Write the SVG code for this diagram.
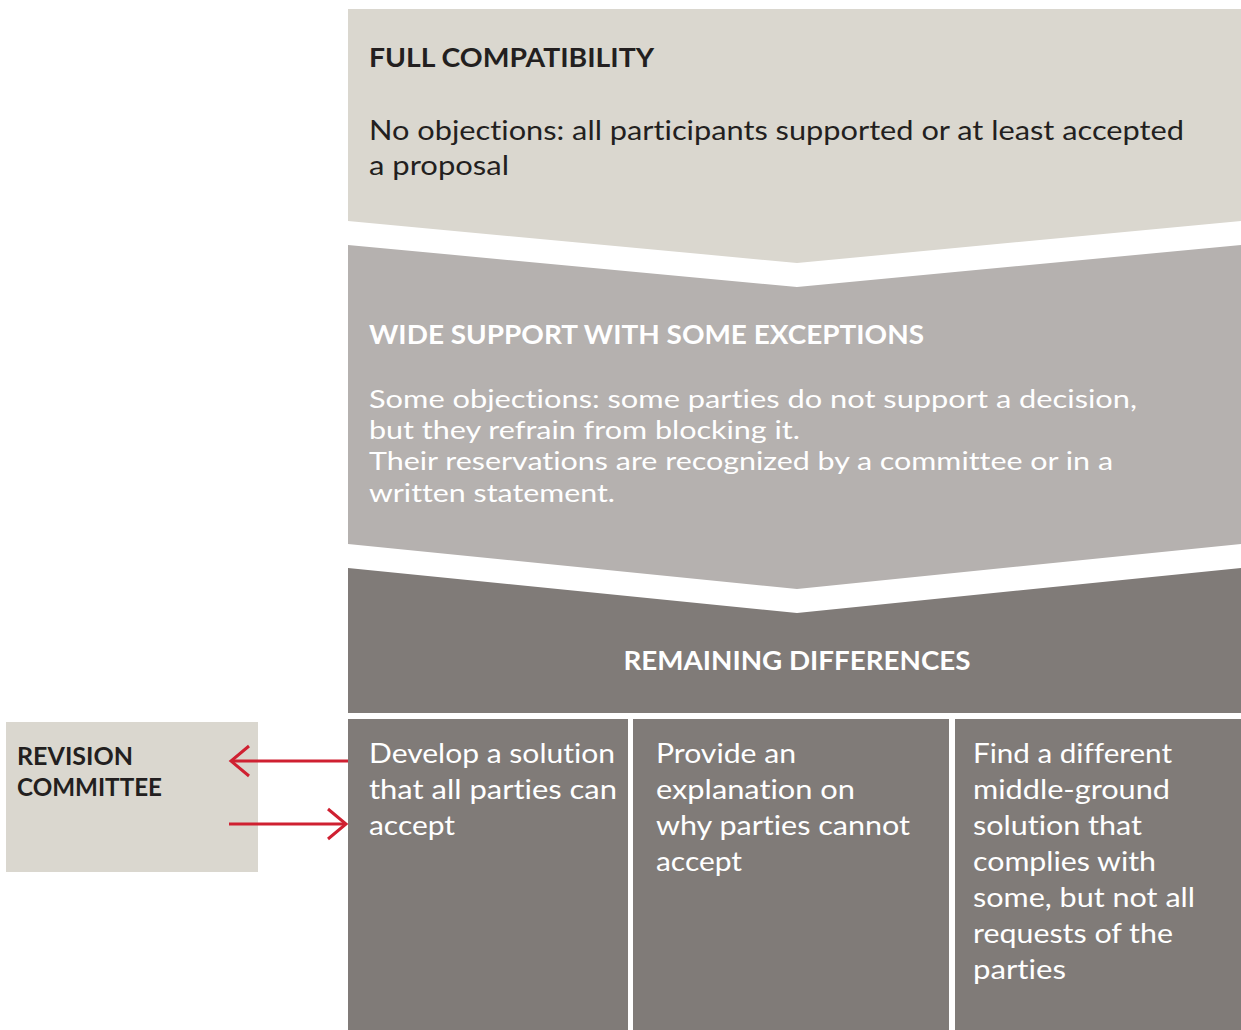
<svg xmlns="http://www.w3.org/2000/svg" width="1241" height="1030" viewBox="0 0 1241 1030">
<style>
  .t { font-family: Lato, "Open Sans", sans-serif; font-variant-ligatures: none; font-feature-settings: "liga" 0, "dlig" 0; }
  .h { font-weight: 700; font-size: 27px; }
  .b { font-weight: 400; font-size: 27px; }
  .w { font-size: 25.5px; }
  .c { font-size: 26px; }
  .r { font-size: 25.5px; }
  .dark { fill: #231f20; }
  .light { fill: #ffffff; }
  .conn { stroke: #cf2031; stroke-width: 3; fill: none; }
</style>
<defs>
  <marker id="arr" markerUnits="userSpaceOnUse" markerWidth="40" markerHeight="40" viewBox="-20 -20 40 40" refX="0" refY="0" orient="auto" overflow="visible">
    <path d="M-18,-15 L0,0 L-18,15" fill="none" stroke="#cf2031" stroke-width="3"/>
  </marker>
</defs>
<rect width="1241" height="1030" fill="#ffffff"/>

<g id="full-compatibility">
  <polygon points="348,9 1241,9 1241,221 797,263 348,221" fill="#dad7cf"/>
  <text class="t h dark" x="369" y="67" textLength="285" lengthAdjust="spacingAndGlyphs">FULL COMPATIBILITY</text>
  <text class="t b dark" x="369" y="140" textLength="815" lengthAdjust="spacingAndGlyphs">No objections: all participants supported or at least accepted</text>
  <text class="t b dark" x="369" y="175" textLength="140" lengthAdjust="spacingAndGlyphs">a proposal</text>
</g>

<g id="wide-support">
  <polygon points="348,245 797,287 1241,245 1241,544 797,589 348,544" fill="#b5b1af"/>
  <text class="t h light" x="369" y="344" textLength="555" lengthAdjust="spacingAndGlyphs">WIDE SUPPORT WITH SOME EXCEPTIONS</text>
  <text class="t b w light" x="369" y="408" textLength="768" lengthAdjust="spacingAndGlyphs">Some objections: some parties do not support a decision,</text>
  <text class="t b w light" x="369" y="439" textLength="431" lengthAdjust="spacingAndGlyphs">but they refrain from blocking it.</text>
  <text class="t b w light" x="369" y="470" textLength="744" lengthAdjust="spacingAndGlyphs">Their reservations are recognized by a committee or in a</text>
  <text class="t b w light" x="369" y="502" textLength="246" lengthAdjust="spacingAndGlyphs">written statement.</text>
</g>

<g id="remaining-differences">
  <polygon points="348,568 797,613 1241,568 1241,713 348,713" fill="#807b78"/>
  <text class="t h light" x="797" y="670" text-anchor="middle" textLength="347" lengthAdjust="spacingAndGlyphs">REMAINING DIFFERENCES</text>
</g>

<g id="develop-solution">
  <rect x="348" y="719" width="280" height="311" fill="#807b78"/>
  <text class="t b c light" x="369" y="763" textLength="246" lengthAdjust="spacingAndGlyphs">Develop a solution</text>
  <text class="t b c light" x="369" y="799" textLength="248" lengthAdjust="spacingAndGlyphs">that all parties can</text>
  <text class="t b c light" x="369" y="835" textLength="86" lengthAdjust="spacingAndGlyphs">accept</text>
</g>

<g id="provide-explanation">
  <rect x="633" y="719" width="316" height="311" fill="#807b78"/>
  <text class="t b c light" x="656" y="763" textLength="140" lengthAdjust="spacingAndGlyphs">Provide an</text>
  <text class="t b c light" x="656" y="799" textLength="199" lengthAdjust="spacingAndGlyphs">explanation on</text>
  <text class="t b c light" x="656" y="835" textLength="254" lengthAdjust="spacingAndGlyphs">why parties cannot</text>
  <text class="t b c light" x="656" y="871" textLength="86" lengthAdjust="spacingAndGlyphs">accept</text>
</g>

<g id="find-middle-ground">
  <rect x="955" y="719" width="286" height="311" fill="#807b78"/>
  <text class="t b c light" x="973" y="763" textLength="199" lengthAdjust="spacingAndGlyphs">Find a different</text>
  <text class="t b c light" x="973" y="799" textLength="197" lengthAdjust="spacingAndGlyphs">middle-ground</text>
  <text class="t b c light" x="973" y="835" textLength="169" lengthAdjust="spacingAndGlyphs">solution that</text>
  <text class="t b c light" x="973" y="871" textLength="183" lengthAdjust="spacingAndGlyphs">complies with</text>
  <text class="t b c light" x="973" y="907" textLength="222" lengthAdjust="spacingAndGlyphs">some, but not all</text>
  <text class="t b c light" x="973" y="943" textLength="200" lengthAdjust="spacingAndGlyphs">requests of the</text>
  <text class="t b c light" x="973" y="979" textLength="93" lengthAdjust="spacingAndGlyphs">parties</text>
</g>

<g id="revision-committee">
  <rect x="6" y="722" width="252" height="150" fill="#dad7cf"/>
  <text class="t h r dark" x="17" y="765" textLength="116" lengthAdjust="spacingAndGlyphs">REVISION</text>
  <text class="t h r dark" x="17" y="796" textLength="145" lengthAdjust="spacingAndGlyphs">COMMITTEE</text>
</g>

<g id="connectors">
  <line class="conn" x1="348" y1="761" x2="231" y2="761" marker-end="url(#arr)"/>
  <line class="conn" x1="229" y1="824" x2="346" y2="824" marker-end="url(#arr)"/>
</g>
</svg>
